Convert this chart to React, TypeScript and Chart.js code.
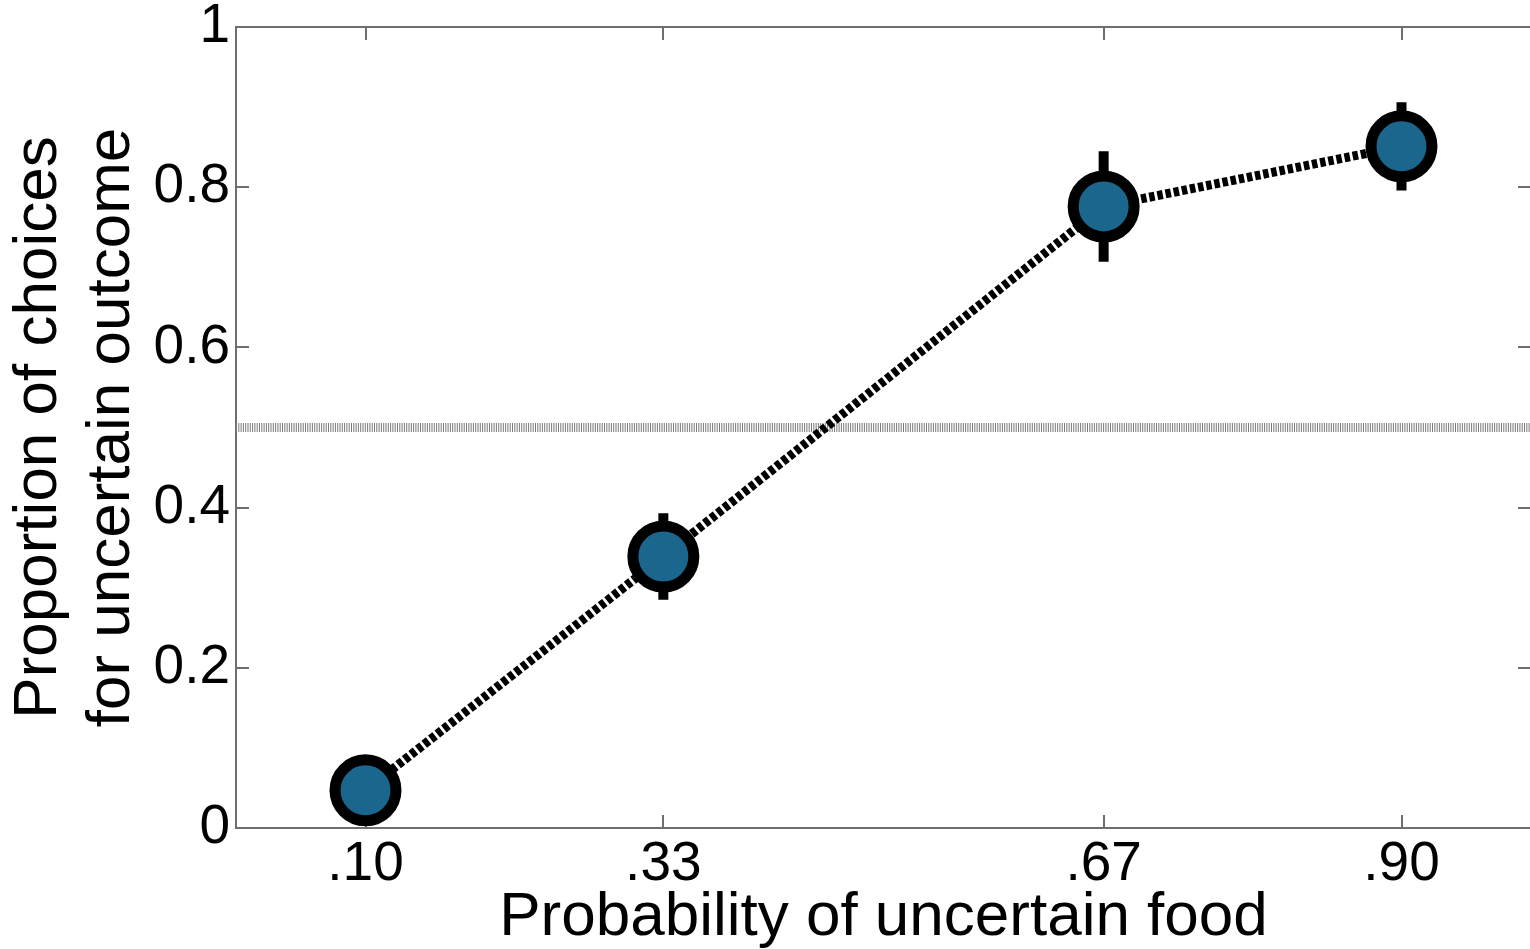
import React, { useEffect, useRef } from "react";
import { Chart, registerables } from "chart.js";

Chart.register(...registerables);

// ---- data ----
const probabilities = [0.1, 0.33, 0.67, 0.9];
const probabilityLabels = [".10", ".33", ".67", ".90"];
const proportions = [0.047, 0.339, 0.776, 0.851];
const errors = [0.02, 0.054, 0.069, 0.055];
const yTickValues = [0, 0.2, 0.4, 0.6, 0.8, 1];
const yTickLabels = ["0", "0.2", "0.4", "0.6", "0.8", "1"];
const referenceLevel = 0.5;
const xRange = [0, 1];
const yRange = [0, 1];

const FONT = "'Liberation Sans', Arial, Helvetica, sans-serif";
const BLUE = "#1b668d";
const AXIS = "#6e6e6e";

const framePlugin = {
  id: "frameAndErrors",
  beforeDatasetsDraw(chart: any) {
    const { ctx, chartArea, scales } = chart;
    const { left, right, top, bottom } = chartArea;
    ctx.save();
    ctx.strokeStyle = AXIS;
    ctx.lineWidth = 2;
    ctx.beginPath();
    ctx.rect(left, top, right - left, bottom - top);
    ctx.stroke();
    const tl = 13;
    ctx.beginPath();
    probabilities.forEach((p) => {
      const x = Math.round(scales.x.getPixelForValue(p));
      ctx.moveTo(x, bottom);
      ctx.lineTo(x, bottom - tl);
      ctx.moveTo(x, top);
      ctx.lineTo(x, top + tl);
    });
    yTickValues.forEach((v) => {
      const y = Math.round(scales.y.getPixelForValue(v));
      ctx.moveTo(left, y);
      ctx.lineTo(left + tl, y);
      ctx.moveTo(right, y);
      ctx.lineTo(right - tl, y);
    });
    ctx.stroke();
    ctx.restore();
  },
  afterDatasetDraw(chart: any, args: any) {
    if (args.index !== 0) return;
    const { ctx, scales } = chart;
    ctx.save();
    ctx.strokeStyle = "#000";
    ctx.lineWidth = 10;
    ctx.lineCap = "butt";
    ctx.beginPath();
    probabilities.forEach((p, i) => {
      const x = scales.x.getPixelForValue(p);
      ctx.moveTo(x, scales.y.getPixelForValue(proportions[i] - errors[i]));
      ctx.lineTo(x, scales.y.getPixelForValue(proportions[i] + errors[i]));
    });
    ctx.stroke();
    ctx.restore();
  },
};

export default function App() {
  const canvasRef = useRef<HTMLCanvasElement | null>(null);

  useEffect(() => {
    if (!canvasRef.current) return;
    const chart = new Chart(canvasRef.current, {
      type: "line",
      data: {
        datasets: [
          {
            label: "chance",
            data: [
              { x: xRange[0], y: referenceLevel },
              { x: xRange[1], y: referenceLevel },
            ],
            borderColor: "#7a7a7a",
            borderWidth: 9,
            borderDash: [1, 1.3],
            pointRadius: 0,
            fill: false,
            order: 2,
          },
          {
            label: "choices",
            data: probabilities.map((p, i) => ({ x: p, y: proportions[i] })),
            borderColor: "#000",
            borderWidth: 9,
            borderDash: [5.5, 2.8],
            pointRadius: 30.5,
            pointBorderWidth: 11,
            pointBackgroundColor: BLUE,
            pointBorderColor: "#000",
            fill: false,
            order: 1,
          },
        ],
      },
      options: {
        responsive: false,
        animation: false,
        events: [],
        layout: { autoPadding: false, padding: { left: 0, right: 14, top: 27, bottom: 0 } },
        plugins: {
          legend: { display: false },
          tooltip: { enabled: false },
        },
        scales: {
          x: {
            type: "linear",
            min: xRange[0],
            max: xRange[1],
            grid: { display: false, drawTicks: false },
            border: { display: false },
            afterBuildTicks: (scale: any) => {
              scale.ticks = probabilities.map((v) => ({ value: v }));
            },
            afterFit: (scale: any) => {
              scale.height = 121;
              scale.paddingLeft = 0;
              scale.paddingRight = 0;
            },
            ticks: {
              color: "#000",
              padding: 4,
              maxRotation: 0,
              autoSkip: false,
              font: { family: FONT, size: 55, lineHeight: 1.2 },
              callback: (value: any) => {
                const i = probabilities.indexOf(Number(value));
                return i >= 0 ? probabilityLabels[i] : "";
              },
            },
            title: {
              display: true,
              text: "Probability of uncertain food",
              color: "#000",
              font: { family: FONT, size: 62, lineHeight: 1.2 },
              padding: { top: 0, bottom: -6 },
            },
          },
          y: {
            type: "linear",
            min: yRange[0],
            max: yRange[1],
            grid: { display: false, drawTicks: false },
            border: { display: false },
            afterBuildTicks: (scale: any) => {
              scale.ticks = yTickValues.map((v) => ({ value: v }));
            },
            afterFit: (scale: any) => {
              scale.width = 236;
              scale.paddingTop = 0;
              scale.paddingBottom = 0;
            },
            ticks: {
              color: "#000",
              padding: 6,
              autoSkip: false,
              font: { family: FONT, size: 55, lineHeight: 1.2 },
              callback: (value: any) => {
                const i = yTickValues.indexOf(Number(value));
                return i >= 0 ? yTickLabels[i] : "";
              },
            },
            title: {
              display: true,
              text: ["Proportion of choices", "for uncertain outcome"],
              color: "#000",
              font: { family: FONT, size: 62, lineHeight: 1.18 },
              padding: { top: 2, bottom: 0 },
            },
          },
        },
      },
      plugins: [framePlugin],
    });
    return () => chart.destroy();
  }, []);

  return (
    <div
      style={{
        position: "fixed",
        left: 0,
        top: 0,
        width: 1545,
        height: 949,
        background: "#fff",
        overflow: "hidden",
      }}
    >
      <canvas ref={canvasRef} width={1545} height={949} style={{ display: "block" }} />
    </div>
  );
}
